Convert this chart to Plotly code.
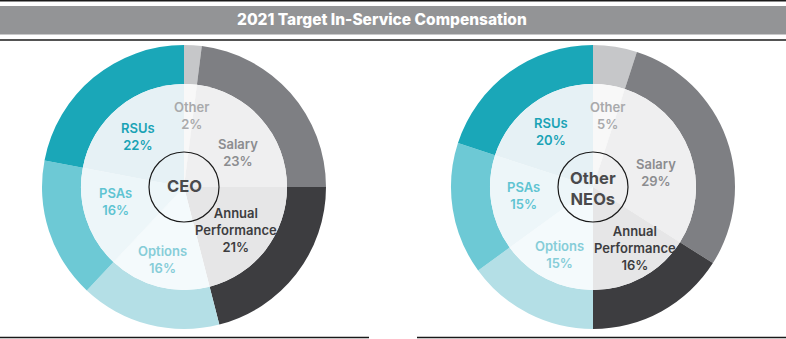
import plotly.graph_objects as go

# Compensation mix (percent of 2021 target in-service compensation)
components = ["Other", "Salary", "Annual Performance", "Options", "PSAs", "RSUs"]
ceo_pct = [2, 23, 21, 16, 16, 22]
neo_pct = [5, 29, 16, 15, 15, 20]
group_names = ["CEO", "Other<br>NEOs"]
title_text = "2021 Target In-Service Compensation"

W, H = 786, 339

ring_colors = ["#c6c7c9", "#7e7f83", "#3d3d40", "#b4dfe6", "#6dc9d5", "#1aa7b8"]
fill_colors = ["#f8f8f8", "#efeff0", "#e6e6e7", "#f4fafc", "#edf6f9", "#e6f1f5"]
text_colors = ["#a9aaac", "#8b8c8f", "#3d3d3f", "#86cdd8", "#5fc4d2", "#1aa3b5"]

FONT = "Inter"


def px(x):
    return x / W


def py(y):
    return 1 - y / H


def domain(cx, cy, r):
    return dict(x=[px(cx - r), px(cx + r)], y=[py(cy + r), py(cy - r)])


# chart layout: centre (px), label anchors, group-name height
charts = [
    dict(values=ceo_pct, name=group_names[0], cx=184, cy=187,
         label_xy=[(191, 115), (238, 152), (236, 230), (162, 259), (115, 201), (138, 136)],
         name_y=186),
    dict(values=neo_pct, name=group_names[1], cx=593, cy=187,
         label_xy=[(607, 115), (656, 172), (635, 248), (559, 255), (523, 195), (551, 131)],
         name_y=188),
]
R_OUT, R_IN, R_CENTER = 142, 103, 35

fig = go.Figure()
annotations = []
shapes = []

for ch in charts:
    # outer coloured ring
    fig.add_trace(go.Pie(
        labels=components, values=ch["values"], sort=False, direction="clockwise",
        rotation=0, hole=R_IN / R_OUT, domain=domain(ch["cx"], ch["cy"], R_OUT),
        marker=dict(colors=ring_colors, line=dict(width=0)),
        textinfo="none", showlegend=False, hoverinfo="label+percent",
    ))
    # pale inner disc with the same split
    fig.add_trace(go.Pie(
        labels=components, values=ch["values"], sort=False, direction="clockwise",
        rotation=0, domain=domain(ch["cx"], ch["cy"], R_IN),
        marker=dict(colors=fill_colors, line=dict(width=0)),
        textinfo="none", showlegend=False, hoverinfo="label+percent",
    ))
    for i, (lab, val) in enumerate(zip(components, ch["values"])):
        lx, ly = ch["label_xy"][i]
        annotations.append(dict(
            x=px(lx), y=py(ly), xref="paper", yref="paper", showarrow=False,
            text=f"{lab.replace(' ', '<br>')}<br>{val}%",
            font=dict(family=FONT, size=13, color=text_colors[i], weight=600),
            xanchor="center", yanchor="middle", align="center",
        ))
    # centre circle and group name
    shapes.append(dict(
        type="circle", xref="paper", yref="paper",
        x0=px(ch["cx"] - R_CENTER), x1=px(ch["cx"] + R_CENTER),
        y0=py(ch["cy"] + R_CENTER), y1=py(ch["cy"] - R_CENTER),
        line=dict(color="#1a1a1a", width=1.2), fillcolor="rgba(0,0,0,0)",
    ))
    annotations.append(dict(
        x=px(ch["cx"]), y=py(ch["name_y"]), xref="paper", yref="paper", showarrow=False,
        text=ch["name"], font=dict(family=FONT, size=16.5, color="#4a4a4c", weight=700),
        xanchor="center", yanchor="middle", align="center",
    ))

# title band and rules
shapes += [
    dict(type="rect", xref="paper", yref="paper", x0=0, x1=1, y0=py(34.5), y1=py(6),
         fillcolor="#939496", line=dict(width=0), layer="below"),
    dict(type="line", xref="paper", yref="paper", x0=0, x1=1, y0=py(0.7), y1=py(0.7),
         line=dict(color="#1a1a1a", width=1.5)),
    dict(type="line", xref="paper", yref="paper", x0=0, x1=1, y0=py(40), y1=py(40),
         line=dict(color="#1a1a1a", width=1.5)),
    dict(type="line", xref="paper", yref="paper", x0=0, x1=px(369), y0=py(337.5), y1=py(337.5),
         line=dict(color="#1a1a1a", width=1.5)),
    dict(type="line", xref="paper", yref="paper", x0=px(417), x1=1, y0=py(337.5), y1=py(337.5),
         line=dict(color="#1a1a1a", width=1.5)),
]
annotations.append(dict(
    x=px(382), y=py(20), xref="paper", yref="paper", showarrow=False,
    text=title_text, font=dict(family=FONT, size=15.5, color="#ffffff", weight=800),
    xanchor="center", yanchor="middle",
))

fig.update_layout(
    width=W, height=H, margin=dict(l=0, r=0, t=0, b=0),
    paper_bgcolor="#ffffff", plot_bgcolor="#ffffff",
    shapes=shapes, annotations=annotations,
)

fig.write_html("out.html")
